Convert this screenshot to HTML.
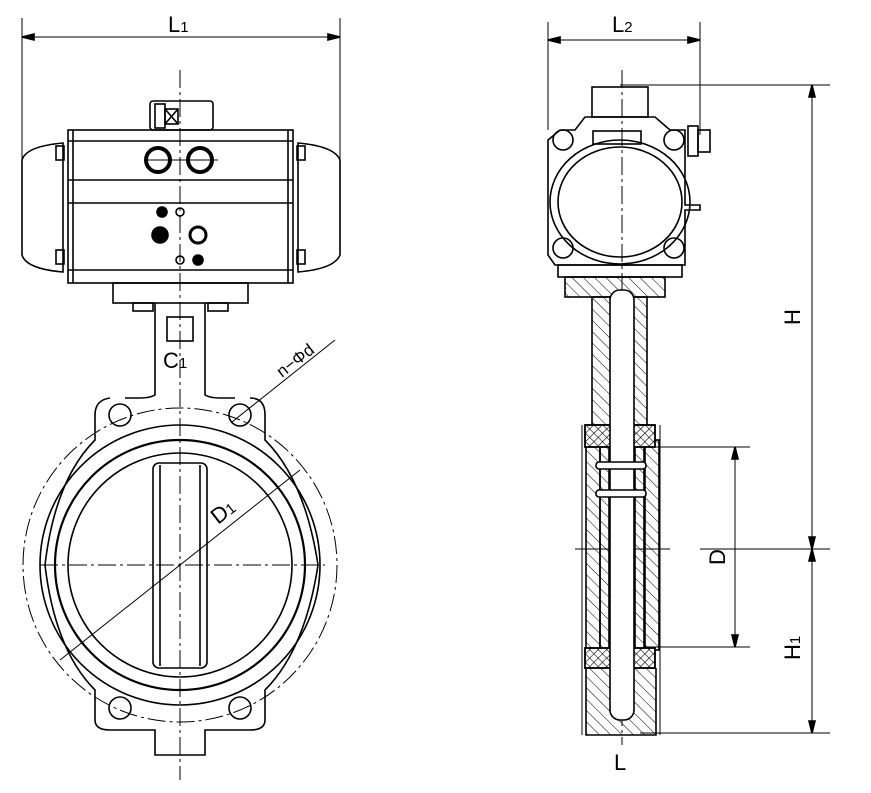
<!DOCTYPE html>
<html><head><style>
html,body{margin:0;padding:0;background:#fff;}
svg{display:block}
text{font-family:"Liberation Sans",sans-serif;fill:#000}
</style></head><body>
<svg width="871" height="793" viewBox="0 0 871 793" xmlns="http://www.w3.org/2000/svg" fill="none" stroke="#000" stroke-width="1.6">
<defs>
<pattern id="h" width="8" height="8" patternUnits="userSpaceOnUse" patternTransform="rotate(-45)"><line x1="0" y1="0" x2="0" y2="8" stroke="#000" stroke-width="1"/></pattern>
<pattern id="x" width="6" height="6" patternUnits="userSpaceOnUse" patternTransform="rotate(45)"><line x1="0" y1="0" x2="0" y2="6" stroke="#000" stroke-width="1.2"/><line x1="0" y1="0" x2="6" y2="0" stroke="#000" stroke-width="1.2"/></pattern>
</defs>
<!-- LEFT VIEW -->
<g stroke-width="1">
<line x1="22" y1="18" x2="22" y2="235"/><line x1="340" y1="18" x2="340" y2="235"/>
<line x1="22" y1="37" x2="340" y2="37"/>
</g>
<polygon points="22,37 34,34 34,40" fill="#000"/><polygon points="340,37 328,34 328,40" fill="#000"/>
<text x="168" y="32" font-size="22" stroke="none">L<tspan font-size="15">1</tspan></text>
<line x1="180" y1="70" x2="180" y2="780" stroke-width="1" stroke-dasharray="18,4,3,4"/>
<rect x="150" y="101" width="63" height="29" rx="3"/>
<rect x="155" y="104" width="10" height="24"/><rect x="165" y="109" width="13" height="15"/>
<line x1="165" y1="109" x2="178" y2="124"/><line x1="178" y1="109" x2="165" y2="124"/>
<rect x="68" y="130" width="225" height="153"/>
<line x1="73" y1="130" x2="73" y2="283"/><line x1="288" y1="130" x2="288" y2="283"/>
<line x1="68" y1="141" x2="293" y2="141"/><line x1="68" y1="180" x2="293" y2="180"/>
<line x1="68" y1="203" x2="293" y2="203"/><line x1="68" y1="270" x2="293" y2="270"/>
<path d="M63,143 C40,145 25,150 22,160 L22,255 C25,265 40,270 63,272 Z"/>
<path d="M298,143 C321,145 336,150 340,160 L340,255 C336,265 321,270 298,272 Z"/>
<rect x="56" y="146" width="8" height="14"/><rect x="56" y="250" width="8" height="14"/>
<rect x="297" y="146" width="8" height="14"/><rect x="297" y="250" width="8" height="14"/>
<circle cx="158" cy="160" r="12" stroke-width="4"/><circle cx="200" cy="160" r="12" stroke-width="4"/>
<line x1="144" y1="160" x2="218" y2="160" stroke-width="1"/>
<circle cx="162" cy="212" r="5" fill="#000"/><circle cx="180" cy="212" r="4"/>
<circle cx="160" cy="235" r="8" fill="#000"/><circle cx="198" cy="235" r="8" stroke-width="3"/>
<circle cx="180" cy="260" r="4"/><circle cx="198" cy="260" r="5" fill="#000"/>
<rect x="113" y="283" width="135" height="20"/>
<rect x="133" y="303" width="20" height="8"/><rect x="208" y="303" width="20" height="8"/>
<path d="M155,303 L155,395 Q150,398 140,398 L125,398"/><path d="M205,303 L205,395 Q210,398 220,398 L235,398"/>
<rect x="167" y="317" width="26" height="24"/>
<text x="163" y="368" font-size="22" stroke="none">C<tspan font-size="15">1</tspan></text>
<circle cx="180" cy="565" r="157" stroke-width="1" stroke-dasharray="18,4,3,4"/>
<path d="M110,398 Q95,400 95,415 L95,440 Q55,480 45,565 Q55,650 95,690 L95,720 Q95,730 110,730 L155,730 L155,755 L205,755 L205,730 L250,730 Q265,730 265,720 L265,690 Q305,650 318,565 Q305,480 265,440 L265,415 Q265,398 250,398"/>
<circle cx="180" cy="565" r="140"/>
<circle cx="180" cy="565" r="125" stroke-width="2.2"/>
<circle cx="180" cy="565" r="112"/>
<rect x="153" y="463" width="54" height="205" rx="6"/>
<line x1="160" y1="465" x2="160" y2="666"/><line x1="200" y1="465" x2="200" y2="666"/>
<line x1="40" y1="565" x2="325" y2="565" stroke-width="1" stroke-dasharray="18,4,3,4"/>
<circle cx="120" cy="415" r="11"/><circle cx="240" cy="415" r="11"/>
<circle cx="120" cy="708" r="11"/><circle cx="240" cy="708" r="11"/>
<line x1="60" y1="660" x2="300" y2="470" stroke-width="1"/>
<line x1="232" y1="422" x2="335" y2="340" stroke-width="1"/>
<text x="0" y="0" font-size="22" stroke="none" transform="translate(218,525) rotate(-38)">D<tspan font-size="15">1</tspan></text>
<text x="0" y="0" font-size="17" stroke="none" transform="translate(282,378) rotate(-38)">n−Φd</text>
<!-- RIGHT VIEW -->
<g stroke-width="1">
<line x1="548" y1="22" x2="548" y2="130"/><line x1="700" y1="22" x2="700" y2="135"/>
<line x1="548" y1="40" x2="700" y2="40"/>
<line x1="620" y1="85" x2="830" y2="85"/><line x1="700" y1="549" x2="830" y2="549"/>
<line x1="640" y1="733" x2="830" y2="733"/>
<line x1="812" y1="85" x2="812" y2="733"/>
<line x1="645" y1="447" x2="750" y2="447"/><line x1="645" y1="647" x2="750" y2="647"/>
<line x1="735" y1="447" x2="735" y2="647"/>
</g>
<polygon points="548,40 560,37 560,43" fill="#000"/><polygon points="700,40 688,37 688,43" fill="#000"/>
<polygon points="812,85 809,97 815,97" fill="#000"/><polygon points="812,549 809,537 815,537" fill="#000"/>
<polygon points="812,549 809,561 815,561" fill="#000"/><polygon points="812,733 809,721 815,721" fill="#000"/>
<polygon points="735,447 732,459 738,459" fill="#000"/><polygon points="735,647 732,635 738,635" fill="#000"/>
<text x="612" y="32" font-size="22" stroke="none">L<tspan font-size="15">2</tspan></text>
<text x="0" y="0" font-size="22" stroke="none" transform="translate(800,325) rotate(-90)">H</text>
<text x="0" y="0" font-size="22" stroke="none" transform="translate(800,660) rotate(-90)">H<tspan font-size="15">1</tspan></text>
<text x="0" y="0" font-size="22" stroke="none" transform="translate(725,565) rotate(-90)">D</text>
<text x="614" y="770" font-size="22" stroke="none">L</text>
<line x1="622" y1="70" x2="622" y2="745" stroke-width="1" stroke-dasharray="18,4,3,4"/>
<line x1="575" y1="549" x2="670" y2="549" stroke-width="1"/>
<rect x="592" y="87" width="56" height="30"/>
<path d="M585,117 L655,117 L670,130 L685,130 L685,205 L700,205 L700,210 L685,210 L685,265 L555,265 L548,255 L548,140 L560,130 L575,130 Z"/>
<rect x="688" y="126" width="10" height="30"/><rect x="698" y="130" width="12" height="22"/>
<ellipse cx="620" cy="202" rx="62" ry="55"/><ellipse cx="620" cy="202" rx="70" ry="62"/>
<rect x="593" y="131" width="48" height="13"/>
<circle cx="563" cy="140" r="10"/><circle cx="674" cy="140" r="10"/>
<circle cx="563" cy="248" r="10"/><circle cx="674" cy="248" r="10"/>
<rect x="558" y="265" width="124" height="12"/>
<rect x="565" y="277" width="100" height="20" fill="url(#h)"/>
<rect x="592" y="297" width="55" height="128" fill="url(#h)"/>
<rect x="586" y="440" width="14" height="210" fill="url(#h)"/><rect x="645" y="440" width="14" height="210" fill="url(#h)"/>
<rect x="600" y="440" width="9" height="210" fill="url(#h)"/><rect x="635" y="440" width="9" height="210" fill="url(#h)"/>
<rect x="585" y="425" width="70" height="22" fill="#fff"/>
<rect x="585" y="425" width="70" height="22" fill="url(#x)"/>
<rect x="585" y="648" width="70" height="20" fill="#fff"/>
<rect x="585" y="648" width="70" height="20" fill="url(#x)"/>
<path d="M586,668 L586,735 L656,735 L656,668" fill="url(#h)"/>
<rect x="610" y="290" width="24" height="430" rx="10" fill="#fff"/>
<line x1="582" y1="425" x2="582" y2="735" stroke-width="1"/><line x1="660" y1="425" x2="660" y2="735" stroke-width="1"/>
<rect x="596" y="462" width="50" height="7" rx="3" fill="#fff"/><rect x="596" y="490" width="50" height="7" rx="3" fill="#fff"/>
</svg>
</body></html>
